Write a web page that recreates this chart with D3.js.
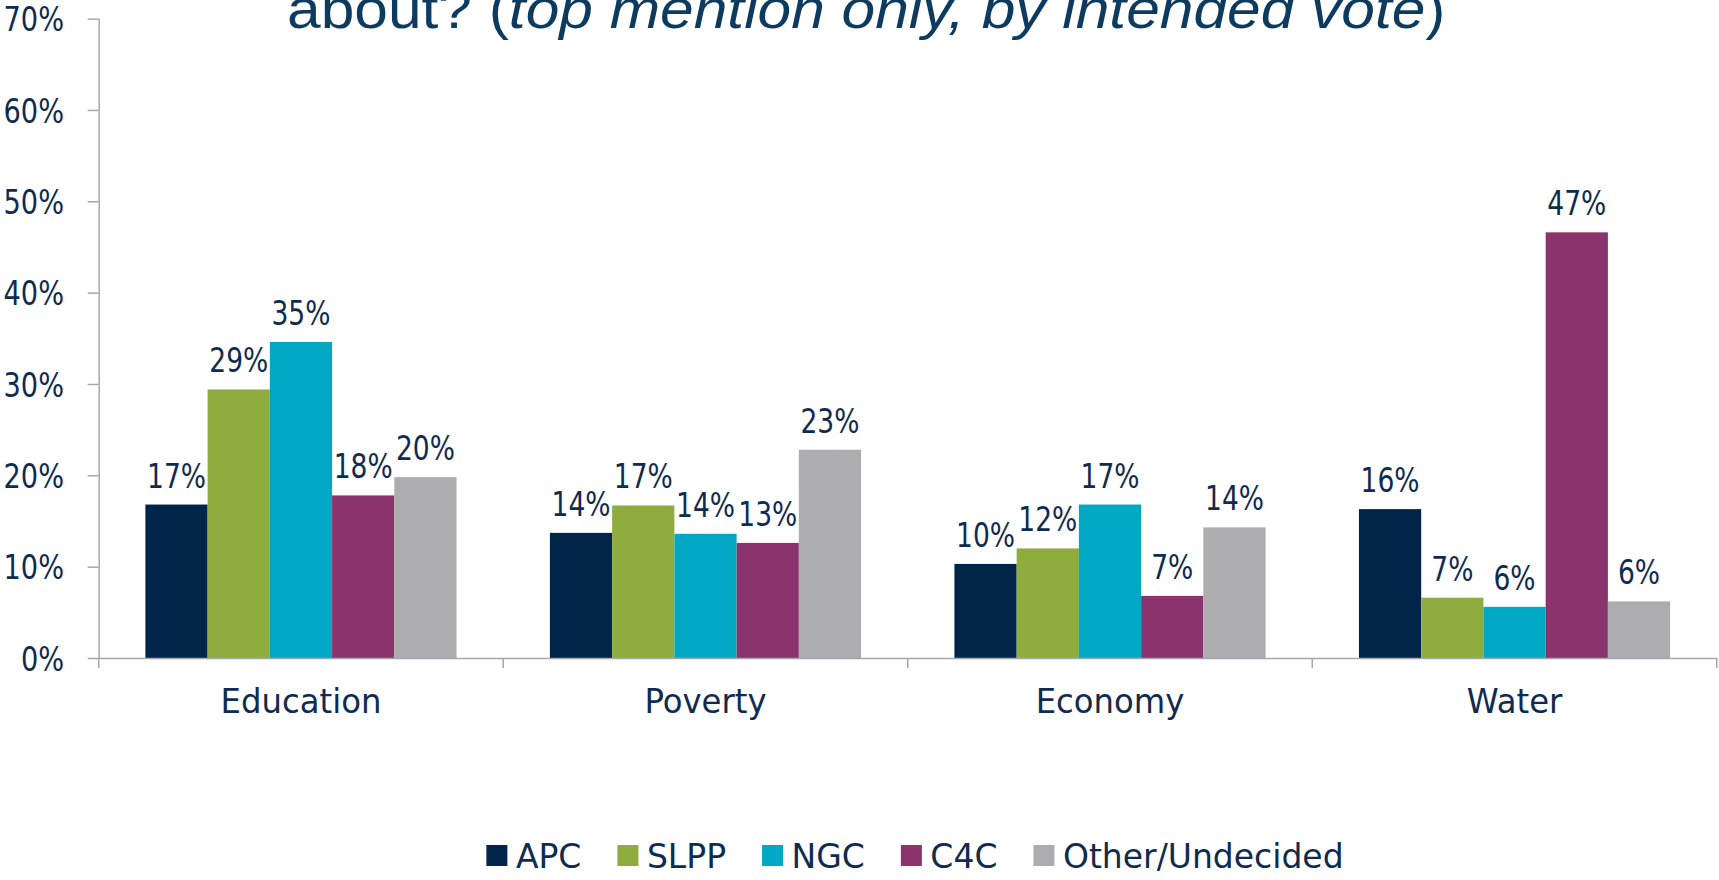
<!DOCTYPE html>
<html>
<head>
<meta charset="utf-8">
<script src="https://cdn.jsdelivr.net/npm/d3@7"></script>
<style>
  html, body { margin: 0; padding: 0; background: #ffffff; }
  svg { display: block; }
</style>
</head>
<body>
<svg id="chart" width="1719" height="880"></svg>
<script>
// ---------------- data ----------------
const categories = ["Education", "Poverty", "Economy", "Water"];
const seriesNames = ["APC", "SLPP", "NGC", "C4C", "Other/Undecided"];
const apc   = [16.8, 13.7, 10.3, 16.3];
const slpp  = [29.4, 16.7, 12.0, 6.6];
const ngc   = [34.6, 13.6, 16.8, 5.6];
const c4c   = [17.8, 12.6, 6.8, 46.6];
const other = [19.8, 22.8, 14.3, 6.2];
const yTicks = [0, 10, 20, 30, 40, 50, 60, 70];
const titleParts = [
  { text: "about? (", italic: false },
  { text: "top mention only, by intended vote", italic: true },
  { text: ")", italic: false }
];

(function () {
// ---------------- styles ----------------
const colors = ["#002548", "#8fad3f", "#00a8c3", "#8b336c", "#adadaf"];
const textColor = "#0f2b50";
const axisColor = "#a3a7ae";
const font = "'DejaVu Sans', sans-serif";

const seriesValues = [apc, slpp, ngc, c4c, other];
const data = categories.map((c, i) => ({
  category: c,
  values: seriesNames.map((s, j) => ({ series: s, value: seriesValues[j][i], color: colors[j] }))
}));

const svg = d3.select("#chart");

const mLeft = 98.7, mRight = 1716.8, mTop = 18.6, mBottom = 658;

const y = d3.scaleLinear().domain([0, 70]).range([mBottom, mTop]);
const x0 = d3.scaleBand().domain(categories).range([mLeft, mRight]).padding(0);
const bw = x0.bandwidth();
const barW = bw / 6.5;
const x1 = d3.scaleBand().domain(seriesNames).range([barW * 0.75, bw - barW * 0.75]).padding(0);

// ---------------- title (partially cut off at top, as in the source) ----------------
const title = svg.append("text")
  .attr("transform", "translate(287,28) scale(1.08,1)")
  .attr("font-family", "'Liberation Sans', Arial, sans-serif")
  .attr("font-size", 56)
  .attr("fill", "#0d3a5f");
titleParts.forEach(p => {
  title.append("tspan").text(p.text).attr("font-style", p.italic ? "italic" : "normal");
});

// ---------------- bars ----------------
const groups = svg.append("g").selectAll("g")
  .data(data).join("g")
  .attr("transform", d => `translate(${x0(d.category)},0)`);

groups.selectAll("rect")
  .data(d => d.values).join("rect")
  .attr("x", d => x1(d.series))
  .attr("y", d => y(d.value))
  .attr("width", x1.bandwidth())
  .attr("height", d => y(0) - y(d.value))
  .attr("fill", d => d.color);

// value labels
groups.selectAll("text.val")
  .data(d => d.values).join("text")
  .attr("class", "val")
  .attr("transform", d => `translate(${x1(d.series) + x1.bandwidth() / 2},${y(d.value) - 17}) scale(0.78,1)`)
  .attr("text-anchor", "middle")
  .attr("font-family", font)
  .attr("font-size", 34)
  .attr("fill", textColor)
  .text(d => Math.round(d.value) + "%");

// ---------------- y axis ----------------
const yAxis = svg.append("g")
  .attr("transform", `translate(${mLeft},0)`)
  .call(d3.axisLeft(y).tickValues(yTicks).tickSize(11).tickSizeOuter(0).tickFormat(d => d + "%"));
yAxis.select(".domain").attr("stroke", axisColor).attr("stroke-width", 1.5);
yAxis.selectAll(".tick line").attr("stroke", axisColor).attr("stroke-width", 1.5);
yAxis.selectAll(".tick text")
  .attr("x", null)
  .attr("transform", `translate(${64 - mLeft},0) scale(0.8,1)`)
  .attr("text-anchor", "end")
  .attr("dy", "0.36em")
  .attr("font-family", font)
  .attr("font-size", 34)
  .attr("fill", textColor);

// ---------------- x axis ----------------
const xAxis = svg.append("g")
  .attr("transform", `translate(0,${mBottom})`)
  .call(d3.axisBottom(x0).tickSize(0).tickSizeOuter(0).tickPadding(0));
xAxis.select(".domain").attr("stroke", axisColor).attr("stroke-width", 1.5);
xAxis.selectAll(".tick text")
  .attr("y", null).attr("dy", null)
  .attr("transform", "translate(0,55) scale(0.95,1)")
  .attr("font-family", font)
  .attr("font-size", 34)
  .attr("fill", textColor);

// category boundary ticks
const boundaries = categories.map(c => x0(c)).concat([x0.range()[1]]);
svg.append("g").selectAll("line")
  .data(boundaries).join("line")
  .attr("x1", d => d).attr("x2", d => d)
  .attr("y1", mBottom).attr("y2", mBottom + 10)
  .attr("stroke", axisColor).attr("stroke-width", 1.5);

// ---------------- legend ----------------
const legend = svg.append("g");
const sq = 21, gapSqText = 8.5, gapItems = 36, legendSx = 1.0;
const items = legend.selectAll("g").data(seriesNames).join("g");
items.append("rect")
  .attr("x", 0).attr("y", 845).attr("width", sq).attr("height", sq)
  .attr("fill", (d, i) => colors[i]);
items.append("text")
  .attr("transform", `translate(${sq + gapSqText},868) scale(${legendSx},1)`)
  .attr("font-family", font)
  .attr("font-size", 33)
  .attr("fill", textColor)
  .text(d => d);
let cx = 0;
items.each(function () {
  const g = d3.select(this);
  const w = g.select("text").node().getComputedTextLength() * legendSx;
  g.attr("transform", `translate(${cx},0)`);
  cx += sq + gapSqText + w + gapItems;
});
const totalW = cx - gapItems;
legend.attr("transform", `translate(${915 - totalW / 2},0)`);
})();
</script>
</body>
</html>
